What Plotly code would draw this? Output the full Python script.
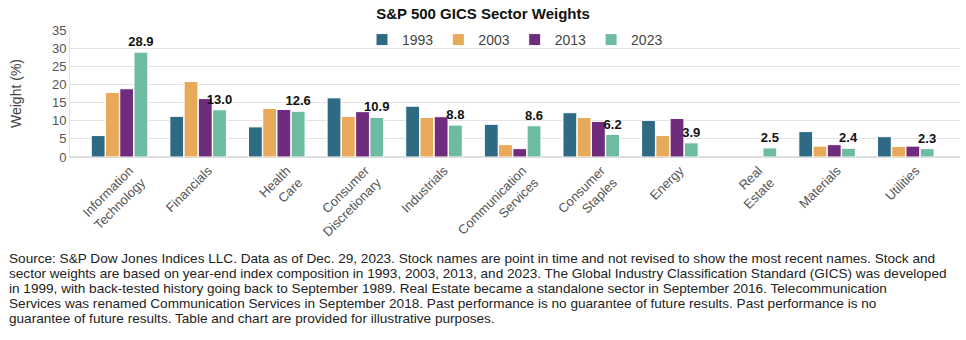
import plotly.graph_objects as go

categories = ["Information<br>Technology", "Financials", "Health<br>Care", "Consumer<br>Discretionary",
              "Industrials", "Communication<br>Services", "Consumer<br>Staples", "Energy",
              "Real<br>Estate", "Materials", "Utilities"]
w1993 = [5.9, 11.2, 8.3, 16.3, 14.0, 9.0, 12.2, 10.1, None, 7.0, 5.6]
w2003 = [17.8, 20.8, 13.4, 11.2, 10.9, 3.4, 10.9, 5.9, None, 3.0, 2.9]
w2013 = [18.8, 16.1, 13.1, 12.5, 11.1, 2.3, 9.8, 10.6, None, 3.4, 3.0]
w2023 = [28.9, 13.0, 12.6, 10.9, 8.8, 8.6, 6.2, 3.9, 2.5, 2.4, 2.3]
years = ["1993", "2003", "2013", "2023"]
colors = ["#2E6A84", "#E8A95B", "#702C7C", "#6DBBA0"]

footnote_lines = [
    "Source: S&P Dow Jones Indices LLC. Data as of Dec. 29, 2023. Stock names are point in time and not revised to show the most recent names. Stock and",
    "sector weights are based on year-end index composition in 1993, 2003, 2013, and 2023. The Global Industry Classification Standard (GICS) was developed",
    "in 1999, with back-tested history going back to September 1989. Real Estate became a standalone sector in September 2016. Telecommunication",
    "Services was renamed Communication Services in September 2018. Past performance is no guarantee of future results. Past performance is no",
    "guarantee of future results. Table and chart are provided for illustrative purposes.",
]

fig = go.Figure()
for yr, vals, col in zip(years, [w1993, w2003, w2013, w2023], colors):
    kw = {}
    if yr == "2023":
        kw = dict(text=[f"{v:.1f}" for v in vals], textposition="outside", constraintext="none",
                  textfont=dict(family="Liberation Sans", size=13, color="#111111"),
                  texttemplate="<b>%{text}</b>", cliponaxis=False)
    fig.add_trace(go.Bar(x=categories, y=vals, name=yr,
                         marker=dict(color=col, line=dict(color="white", width=1)), **kw))

W, H = 966, 340
ml, mr, mt, mb = 70, 6, 30, 183
pw = W - ml - mr
ph = H - mt - mb

annotations = []
for i, line in enumerate(footnote_lines):
    yc = 258 + i * 15.2
    annotations.append(dict(text=line, xref="paper", yref="paper", x=(7 - ml) / pw,
                            y=-(yc - (H - mb)) / ph, xanchor="left", yanchor="middle", align="left",
                            showarrow=False,
                            font=dict(family="Liberation Sans", size=13.6, color="#222222")))

fig.update_layout(
    width=W, height=H,
    margin=dict(l=ml, r=mr, t=mt, b=mb),
    paper_bgcolor="white", plot_bgcolor="white",
    barmode="group", bargap=0.275, bargroupgap=0.03,
    font=dict(family="Liberation Sans", size=12, color="#444444"),
    title=dict(text="<b>S&P 500 GICS Sector Weights</b>", x=0.5, xanchor="center", y=1 - 14 / H,
               yanchor="middle", font=dict(family="Liberation Sans", size=15, color="#111111")),
    legend=dict(orientation="h", x=(362 - ml) / pw, xanchor="left", y=1 - (40 - mt) / ph, yanchor="middle",
                font=dict(size=14, color="#444444"), itemwidth=30,
                bgcolor="rgba(0,0,0,0)", traceorder="normal"),
    xaxis=dict(tickangle=-45, tickfont=dict(size=13, color="#555555"), showline=True, linecolor="#DDDDDD",
               linewidth=1, ticks="", range=[-0.63, 10.69], ticklabelshift=10),
    yaxis=dict(range=[0, 35], dtick=5, showgrid=True, gridcolor="#E3E3E3", gridwidth=1,
               showline=True, linecolor="#E3E3E3", zeroline=True, zerolinecolor="#DDDDDD",
               tickfont=dict(size=13, color="#555555"),
               title=dict(text="Weight (%)", font=dict(size=14, color="#444444"), standoff=27)),
    annotations=annotations,
)
fig.write_html("out.html")
